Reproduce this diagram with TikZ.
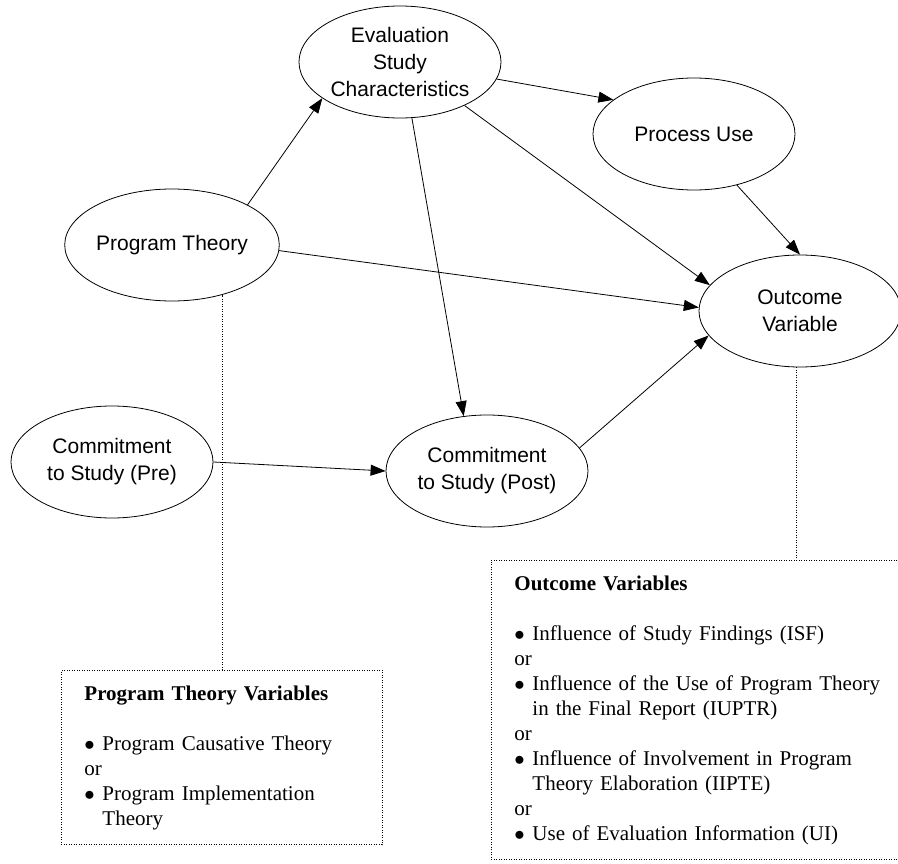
\documentclass[tikz,border=0pt]{standalone}
\usepackage{fontspec}
\setmainfont{Liberation Serif}
\setsansfont{Liberation Sans}
\usetikzlibrary{shapes.geometric,arrows.meta}

\newcommand{\vitem}{\makebox[18pt][l]{$\bullet$}}
\newcommand{\vcont}{\hspace*{18pt}}

\tikzset{
    var/.style={draw, ellipse, line width=0.8pt, minimum width=202pt, minimum height=112pt,
        inner sep=0pt, align=center, font=\sffamily\fontsize{21}{27}\selectfont},
    link/.style={line width=0.8pt, -{Triangle[length=15pt,width=11pt]}},
    note/.style={draw, line width=0.9pt, dash pattern=on 1pt off 1.5pt, anchor=north west,
        align=left, inner xsep=23pt, inner ysep=15pt, font=\fontsize{21}{25}\selectfont},
    hint/.style={line width=0.9pt, dash pattern=on 1pt off 1.5pt}
}

\begin{document}
\begin{tikzpicture}[x=1pt, y=-1pt]
    \clip (0,0) rectangle (898,864);
    \fill[white] (0,0) rectangle (898,864);

    % variables
    \node[var] (eval) at (400,62) {Evaluation\\Study\\Characteristics};
    \node[var] (proc) at (694,134) {Process Use};
    \node[var] (prog) at (172,245) {Program Theory};
    \node[var] (outc) at (800,311) {Outcome\\Variable};
    \node[var] (pre) at (112,462) {Commitment\\to Study (Pre)};
    \node[var] (post) at (487,471) {Commitment\\to Study (Post)};

    % notes
    \node[note, text width=275pt] (progbox) at (61,670) {%
        \textbf{Program Theory Variables}\\[25pt]
        \vitem Program Causative Theory\\
        or\\
        \vitem Program Implementation\\
        \vcont Theory};
    \node[note, text width=380pt] (outbox) at (491,560) {%
        \textbf{Outcome Variables}\\[25pt]
        \vitem Influence of Study Findings (ISF)\\
        or\\
        \vitem Influence of the Use of Program Theory\\
        \vcont in the Final Report (IUPTR)\\
        or\\
        \vitem Influence of Involvement in Program\\
        \vcont Theory Elaboration (IIPTE)\\
        or\\
        \vitem Use of Evaluation Information (UI)};

    % paths
    \draw[link] (prog.28) -- (eval.205);
    \draw[link] (eval.350) -- (proc.157);
    \draw[link] (eval.326) -- (outc.164);
    \draw[link] (eval.282) -- (post.113);
    \draw[link] (proc.310) -- (outc.north);
    \draw[link] (prog.357) -- (outc.178);
    \draw[link] (pre.east) -- (post.west);
    \draw[link] (post.14) -- (outc.195);

    \draw[hint] (progbox.north) -- (progbox.north |- prog.-44);
    \draw[hint] (outc.266) -- (outc.266 |- outbox.north);
\end{tikzpicture}
\end{document}
